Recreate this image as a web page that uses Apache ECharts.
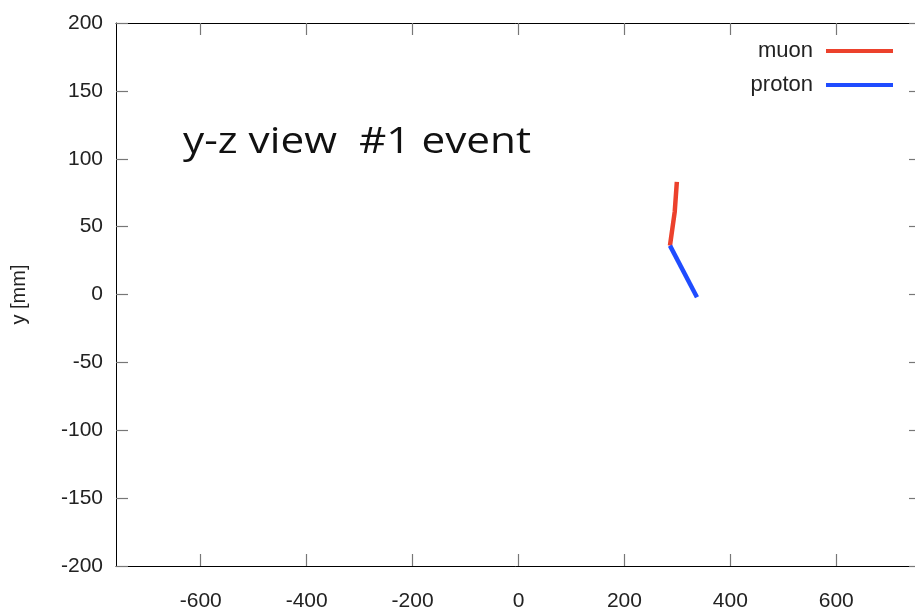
<!DOCTYPE html>
<html><head><meta charset="utf-8">
<script src="https://cdn.jsdelivr.net/npm/echarts@6/dist/echarts.min.js"></script>
<style>html,body{margin:0;padding:0;background:#fff}#c{width:915px;height:610px}</style>
</head><body><div id="c"></div>
<script>
const seriesNames = ['muon', 'proton'];
const muonZ = [286, 295, 299];
const muonY = [36, 61, 83];
const protonZ = [286, 337];
const protonY = [36, -2];
const xTicks = [-600, -400, -200, 0, 200, 400, 600];
const yTicks = [-200, -150, -100, -50, 0, 50, 100, 150, 200];
const colors = ['#ec412c', '#1f4cff'];

const pairs = (a, b) => a.map((v, i) => [v, b[i]]);
const chart = echarts.init(document.getElementById('c'));
const font = 'Liberation Sans, Arial, sans-serif';
const tickStyle = {color: '#777', width: 1.2};
chart.setOption({
  animation: false,
  graphic: [{type: 'text', x: 183, y: 125, scaleX: 1.175, z: 10,
    style: {text: 'y-z view  #1 event', fontFamily: 'Open Sans, sans-serif', fontSize: 36, fill: '#111',
      align: 'left', verticalAlign: 'top'}}],
  legend: {
    orient: 'vertical', right: 17, top: 35, align: 'right', itemWidth: 67, itemHeight: 4, itemGap: 12,
    icon: 'rect',
    textStyle: {fontFamily: font, fontSize: 22, color: '#222', padding: [0, 8, 0, 0]},
    data: seriesNames
  },
  grid: [{left: 116, top: 23, bottom: 44, right: -6, outerBoundsMode: 'none'}],
  xAxis: [
    {type: 'value', min: -760, max: 760, position: 'bottom',
     axisLine: {show: true, onZero: false, lineStyle: {color: '#000', width: 1}},
     axisTick: {show: true, inside: true, length: 12, lineStyle: tickStyle, customValues: xTicks},
     axisLabel: {customValues: xTicks, margin: 25, fontFamily: font, fontSize: 21, color: '#222'},
     splitLine: {show: false}},
    {type: 'value', min: -760, max: 760, position: 'top',
     axisLine: {show: true, onZero: false, lineStyle: {color: '#000', width: 1}},
     axisTick: {show: true, inside: true, length: 12, lineStyle: tickStyle, customValues: xTicks},
     axisLabel: {show: false}, splitLine: {show: false}}
  ],
  yAxis: [
    {type: 'value', min: -200, max: 200, interval: 50, position: 'left',
     name: 'y [mm]', nameLocation: 'middle', nameGap: 87, nameRotate: 90,
     nameTextStyle: {fontFamily: font, fontSize: 20, color: '#222'},
     axisLine: {show: true, onZero: false, lineStyle: {color: '#000', width: 1}},
     axisTick: {show: true, inside: true, length: 12, lineStyle: tickStyle},
     axisLabel: {margin: 13, fontFamily: font, fontSize: 21, color: '#222', customValues: yTicks},
     splitLine: {show: false}},
    {type: 'value', min: -200, max: 200, interval: 50, position: 'right',
     axisLine: {show: true, onZero: false, lineStyle: {color: '#000', width: 1}},
     axisTick: {show: true, inside: true, length: 12, lineStyle: tickStyle},
     axisLabel: {show: false}, splitLine: {show: false}}
  ],
  series: [
    {name: seriesNames[0], type: 'line', data: pairs(muonZ, muonY), symbol: 'none',
     lineStyle: {color: colors[0], width: 4.5}, itemStyle: {color: colors[0]}},
    {name: seriesNames[1], type: 'line', data: pairs(protonZ, protonY), symbol: 'none',
     lineStyle: {color: colors[1], width: 4.5}, itemStyle: {color: colors[1]}}
  ]
});
</script></body></html>
